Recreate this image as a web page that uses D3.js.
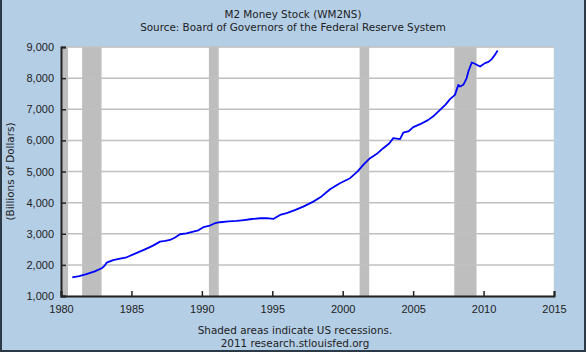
<!DOCTYPE html>
<html>
<head>
<meta charset="utf-8">
<script src="https://cdn.jsdelivr.net/npm/d3@7"></script>
<style>
  body { margin: 0; background: #b4cee6; }
  svg { display: block; font-family: "DejaVu Sans", Verdana, sans-serif; }
</style>
</head>
<body>
<div id="chart"></div>
<script>
// M2 money stock, billions of dollars
const years = [1980.80, 1981.30, 1981.80, 1982.40, 1982.89, 1983.05, 1983.24, 1983.70, 1984.20, 1984.66,
  1985.30, 1985.96, 1986.50, 1987.03, 1987.40, 1987.74, 1988.10, 1988.45, 1988.90, 1989.39,
  1989.75, 1990.10, 1990.50, 1990.93, 1991.29, 1991.90, 1992.47, 1993.00, 1993.42, 1994.13,
  1994.60, 1995.07, 1995.55, 1996.02, 1996.60, 1997.20, 1997.91, 1998.50, 1999.10, 1999.80,
  2000.52, 2001.04, 2001.46, 2001.94, 2002.40, 2002.88, 2003.30, 2003.59, 2004.07, 2004.30,
  2004.70, 2005.01, 2005.50, 2006.08, 2006.50, 2006.91, 2007.30, 2007.62, 2007.97, 2008.21,
  2008.33, 2008.56, 2008.68, 2008.80, 2008.92, 2009.16, 2009.35, 2009.51, 2009.75, 2010.10,
  2010.35, 2010.58, 2010.81, 2011.00];
const m2 = [1595, 1640, 1700, 1790, 1890, 1950, 2071, 2150, 2200, 2244,
  2370, 2500, 2610, 2746, 2770, 2800, 2880, 2984, 3010, 3068,
  3110, 3209, 3250, 3338, 3370, 3400, 3412, 3440, 3466, 3498,
  3500, 3476, 3605, 3660, 3760, 3871, 4032, 4200, 4431, 4624,
  4785, 4997, 5212, 5428, 5560, 5749, 5900, 6071, 6039, 6251,
  6300, 6424, 6520, 6659, 6800, 6981, 7150, 7325, 7463, 7785,
  7730, 7785, 7890, 8000, 8212, 8502, 8470, 8428, 8373, 8482,
  8520, 8610, 8749, 8887];

// recessions, decimal years
const recStart = [1980.0, 1981.5, 1990.5, 2001.2, 2007.92];
const recEnd   = [1980.5, 1982.88, 1991.2, 2001.88, 2009.5];

const yTicks = [1000, 2000, 3000, 4000, 5000, 6000, 7000, 8000, 9000];
const xTicks = [1980, 1985, 1990, 1995, 2000, 2005, 2010, 2015];

const W = 586, H = 352;
const margin = {top: 47, right: 32, bottom: 56, left: 61};
const iw = W - margin.left - margin.right;
const ih = H - margin.top - margin.bottom;

const svg = d3.select('#chart').append('svg').attr('width', W).attr('height', H);

svg.append('rect').attr('x', 0).attr('y', 0).attr('width', W).attr('height', H).attr('fill', '#b4cee6');
// dark frame on left, bottom, right
svg.append('path')
  .attr('d', `M1,0 V${H - 1} H${W - 1} V0`)
  .attr('fill', 'none').attr('stroke', '#2c3a48').attr('stroke-width', 2);

const x = d3.scaleLinear().domain([1980, 2015]).range([0, iw]);
const y = d3.scaleLinear().domain([1000, 9000]).range([ih, 0]);

const g = svg.append('g').attr('transform', `translate(${margin.left},${margin.top})`);

g.append('rect').attr('width', iw).attr('height', ih).attr('fill', '#fff')
  .attr('stroke', '#c8d0d8').attr('stroke-width', 1).attr('stroke-dasharray', '1,1');

// recession shading
g.selectAll('.rec').data(recStart).enter().append('rect')
  .attr('class', 'rec')
  .attr('x', (d, i) => x(d))
  .attr('y', 0)
  .attr('width', (d, i) => x(recEnd[i]) - x(d))
  .attr('height', ih)
  .attr('fill', '#bebebe');

// grid
g.selectAll('.grid').data(yTicks.slice(1)).enter().append('line')
  .attr('class', 'grid')
  .attr('x1', 0).attr('x2', iw)
  .attr('y1', d => y(d)).attr('y2', d => y(d))
  .attr('stroke', '#c0c0c0').attr('stroke-width', 1.5);

// series
const pts = years.map((d, i) => [d, m2[i]]);
const line = d3.line().x(d => x(d[0])).y(d => y(d[1]));
g.append('path').datum(pts)
  .attr('d', line)
  .attr('fill', 'none')
  .attr('stroke', '#0000ff')
  .attr('stroke-width', 1.8)
  .attr('stroke-linejoin', 'round');

// axes
const yAxis = d3.axisLeft(y).tickValues(yTicks).tickFormat(d3.format(',')).tickSize(-5).tickPadding(7);
const xAxis = d3.axisBottom(x).tickValues(xTicks).tickFormat(d3.format('d')).tickSize(-5).tickPadding(7);

const ya = g.append('g').call(yAxis);
const xa = g.append('g').attr('transform', `translate(0,${ih})`).call(xAxis);

[ya, xa].forEach(a => {
  a.select('.domain').attr('stroke', '#222').attr('stroke-width', 2);
  a.selectAll('.tick line').attr('stroke', '#222').attr('stroke-width', 1.5);
  a.selectAll('text').attr('fill', '#222').style('font-size', '11px');
});
xa.selectAll('text').attr('dy', '0.9em');

// titles
const fs = '10.4px';
svg.append('text').attr('x', 293).attr('y', 18).attr('text-anchor', 'middle')
  .style('font-size', fs).attr('fill', '#222').text('M2 Money Stock (WM2NS)');
svg.append('text').attr('x', 293).attr('y', 31).attr('text-anchor', 'middle')
  .style('font-size', fs).attr('fill', '#222').text('Source: Board of Governors of the Federal Reserve System');

svg.append('text')
  .attr('transform', `translate(14,${margin.top + ih / 2}) rotate(-90)`)
  .attr('text-anchor', 'middle')
  .style('font-size', fs).attr('fill', '#222').text('(Billions of Dollars)');

svg.append('text').attr('x', 295).attr('y', 334).attr('text-anchor', 'middle')
  .style('font-size', fs).attr('fill', '#222').text('Shaded areas indicate US recessions.');
svg.append('text').attr('x', 295).attr('y', 347).attr('text-anchor', 'middle')
  .style('font-size', fs).attr('fill', '#222').text('2011 research.stlouisfed.org');
</script>
</body>
</html>
